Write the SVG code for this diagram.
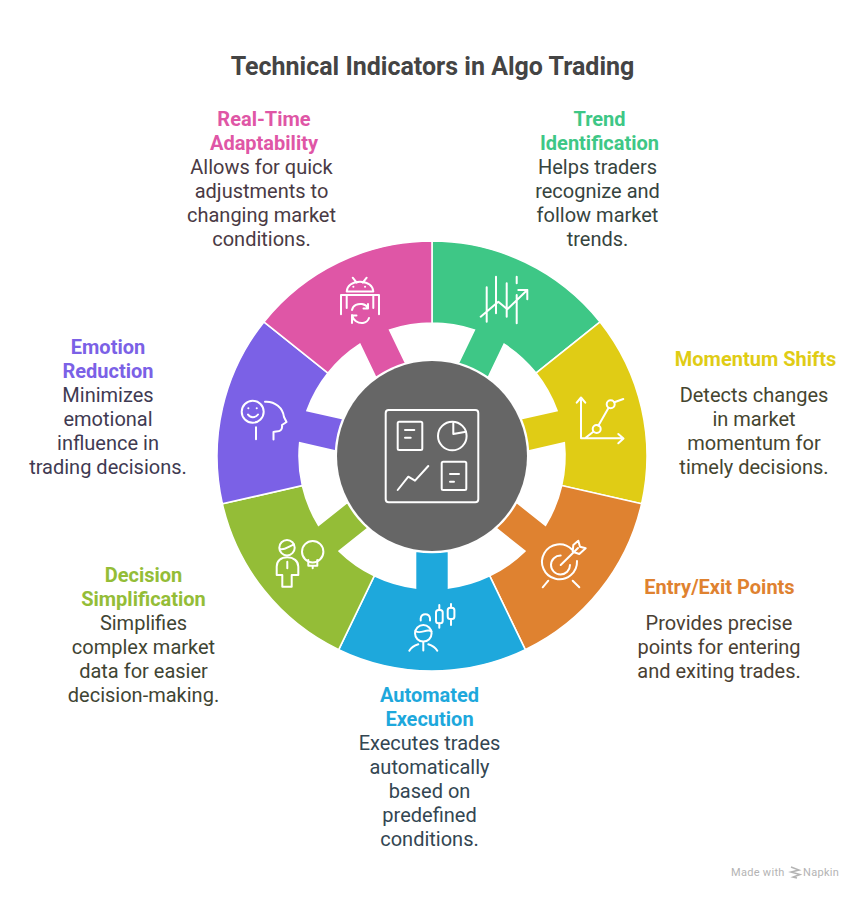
<svg xmlns="http://www.w3.org/2000/svg" xmlns:xlink="http://www.w3.org/1999/xlink" width="864" height="900" viewBox="0 0 864 900">
<style>
text{font-family:Roboto,"Liberation Sans",sans-serif;text-anchor:middle}
.t{font-size:25px;font-weight:700;fill:#444}
.h{font-size:20px;font-weight:700}
.b{font-size:20px;font-weight:400}
.i{fill:none;stroke:#fff;stroke-width:2;stroke-linecap:round;stroke-linejoin:round}
.w{stroke:#fff;stroke-width:1.6;stroke-linejoin:miter}
.m{font-size:11px;fill:#b4b4b4;text-anchor:start;letter-spacing:.3px}
</style>
<defs>
<path id="wedge" d="M-93.29-193.71A215 215 0 0 1 93.29-193.71L57.71-119.83A133 133 0 0 0 16.5-131.97L16.5-95.1A96.5 96.5 0 0 0-16.5-95.1L-16.5-131.97A133 133 0 0 0-57.71-119.83Z"/>
</defs>
<rect width="864" height="900" fill="#fff"/>
<text class="t" x="432.500" y="75">Technical Indicators in Algo Trading</text>

<g id="connectors"></g>

<g id="node-trend">
<use href="#wedge" class="w" fill="#3EC786" transform="translate(432 456) rotate(25.714)"/>
<path class="i" d="M486.700 287.300V321.700M496 276.700V313.300M506.700 283.300V316.700M516.700 276.700V283.300M516.700 295V323.300M480.700 316.700L498.300 301.700L507.300 309.300L527.300 290M518.300 290H527.300V299.300"/>
<text class="h" x="599.500" y="126" fill="#3EC786">Trend</text>
<text class="h" x="599.500" y="150" fill="#3EC786">Identification</text>
<g class="b" fill="#36443E"><text x="597.500" y="174">Helps traders</text><text x="597.500" y="198">recognize and</text><text x="597.500" y="222">follow market</text><text x="597.500" y="246">trends.</text></g>
</g>

<g id="node-momentum">
<use href="#wedge" class="w" fill="#E0CC15" transform="translate(432 456) rotate(77.143)"/>
<path class="i" d="M581 398.300V438.300H622.700M576.700 402.700L581 397.500L585.300 402.700M618.300 434L623.500 438.500L618.300 443.300M585 438.300L593.300 431.700M598.300 425.700L608.300 408.300M614.300 402.300L623.300 399"/>
<circle class="i" cx="596.700" cy="429" r="4"/><circle class="i" cx="610.700" cy="404.300" r="4"/>
<text class="h" x="755.500" y="366" fill="#E0CC15">Momentum Shifts</text>
<g class="b" fill="#45452F"><text x="754" y="402">Detects changes</text><text x="754" y="426">in market</text><text x="754" y="450">momentum for</text><text x="754" y="474">timely decisions.</text></g>
</g>

<g id="node-entry">
<use href="#wedge" class="w" fill="#DF8230" transform="translate(432 456) rotate(128.571)"/>
<path class="i" d="M572 549.500A17.500 17.500 0 1 0 577 561M560.700 555.500A9.500 9.500 0 1 0 570 565M560.700 565L578 548M573.300 545L578.300 540.700L580 546.700L585.700 548.300L579.300 554L572.700 551.700ZM548.300 580.700L542.700 587.300M572.700 580.700L579.300 587.300"/>
<text class="h" x="719.500" y="594" fill="#DF8230">Entry/Exit Points</text>
<g class="b" fill="#4A3F33"><text x="719" y="630">Provides precise</text><text x="719" y="654">points for entering</text><text x="719" y="678">and exiting trades.</text></g>
</g>

<g id="node-execution">
<use href="#wedge" class="w" fill="#1EA8DC" transform="translate(432 456) rotate(180)"/>
<path class="i" d="M409.300 650.700C411.500 647 414.500 645.500 418.300 644.300M428.300 644.300C432 645.500 435 647 437.300 650.700M423.300 642V650.500M415.500 631C420 635 427 628 431.500 631.500M420.700 620.500V618.300A4.700 4.700 0 0 1 430 618.300V620.500M439.300 605V610M439.300 623.300V627.700M451 604V607.700M451 619V625"/>
<circle class="i" cx="423.300" cy="633.300" r="8.300"/>
<rect class="i" x="436" y="610" width="6.700" height="13.300" rx="2.500"/><rect class="i" x="447.700" y="607.700" width="6.700" height="11.300" rx="2.500"/>
<text class="h" x="429.500" y="702" fill="#1EA8DC">Automated</text>
<text class="h" x="429.500" y="726" fill="#1EA8DC">Execution</text>
<g class="b" fill="#334652"><text x="429.500" y="750">Executes trades</text><text x="429.500" y="774">automatically</text><text x="429.500" y="798">based on</text><text x="429.500" y="822">predefined</text><text x="429.500" y="846">conditions.</text></g>
</g>

<g id="node-decision">
<use href="#wedge" class="w" fill="#94BD37" transform="translate(432 456) rotate(231.429)"/>
<path class="i" d="M279.800 549C284 551 289 546 294 544.500M282.300 575H276.700V566.700C276.700 561 281 557.300 287.300 557.300C293.500 557.300 298.300 561 298.300 566.700V575H291.700V586.700H282.300V575M287.300 561.700V568.300M308.300 560V565.700H317.300V560M312.700 565.700V568.300"/>
<circle class="i" cx="287" cy="547.700" r="7.700"/><circle class="i" cx="312.700" cy="551.700" r="10.700"/>
<text class="h" x="143.500" y="582" fill="#94BD37">Decision</text>
<text class="h" x="143.500" y="606" fill="#94BD37">Simplification</text>
<g class="b" fill="#3F4533"><text x="143.500" y="630">Simplifies</text><text x="143.500" y="654">complex market</text><text x="143.500" y="678">data for easier</text><text x="143.500" y="702">decision-making.</text></g>
</g>

<g id="node-emotion">
<use href="#wedge" class="w" fill="#7B61E6" transform="translate(432 456) rotate(282.857)"/>
<circle class="i" cx="252.700" cy="411.700" r="11"/>
<path class="i" d="M248 414.500C250 418 255.500 418 258 414.500M248.300 408.300H248.400M256.700 408.300H256.800M256 427.300V439.300M265 401.700C275 401 283 408 284 417L286.500 422L282 425C283 432 278 431 273.500 432V439.500"/>
<text class="h" x="108" y="354" fill="#7B61E6">Emotion</text>
<text class="h" x="108" y="378" fill="#7B61E6">Reduction</text>
<g class="b" fill="#3F3A52"><text x="108" y="402">Minimizes</text><text x="108" y="426">emotional</text><text x="108" y="450">influence in</text><text x="108" y="474">trading decisions.</text></g>
</g>

<g id="node-realtime">
<use href="#wedge" class="w" fill="#DF56A6" transform="translate(432 456) rotate(334.286)"/>
<path class="i" d="M346.700 291.500C347 286 352 281.700 360 281.700C368 281.700 373 286 373.300 291.500ZM352.700 277.700L356.700 282.700M366.700 277.700L362.700 282.700M353.300 286.700H353.400M365 286.700H365.100M341 314.300V295H379V314.300M346.700 295.700V308M373.300 295.700V308M352 310C353 305 358 303.500 362 304C365 304.500 367 306 368 308M352 315C353 320.500 358 323.500 363 323C366 322.500 368 321 369 318M368 304V308.500H363.500M352 323V315.500H356.500"/>
<text class="h" x="264" y="126" fill="#DF56A6">Real-Time</text>
<text class="h" x="264" y="150" fill="#DF56A6">Adaptability</text>
<g class="b" fill="#4A3A44"><text x="261.500" y="174">Allows for quick</text><text x="261.500" y="198">adjustments to</text><text x="261.500" y="222">changing market</text><text x="261.500" y="246">conditions.</text></g>
</g>

<g id="node-center">
<circle cx="432" cy="456" r="95" fill="#666"/>
<rect class="i" x="385.700" y="410" width="92.600" height="92.300" rx="3"/>
<rect class="i" x="397.700" y="421.700" width="24.600" height="28.300" rx="1.500"/>
<rect class="i" x="441.700" y="461.700" width="24.600" height="28.300" rx="1.500"/>
<circle class="i" cx="452.300" cy="436" r="14.300"/>
<path class="i" d="M405 430H414.300M405 437.700H410.700M450 474H459M450 481.700H454M453.300 423V434L466 431.700M397.700 490L408.300 476.700L415 480.700L428.300 466"/>
</g>

<g id="watermark">
<text class="m" x="731" y="876">Made with</text>
<path d="M791 867L799 870L791 872L800 874.500L793 877L797 878" fill="none" stroke="#b4b4b4" stroke-width="1.500"/>
<text class="m" x="803" y="876">Napkin</text>
</g>
</svg>
